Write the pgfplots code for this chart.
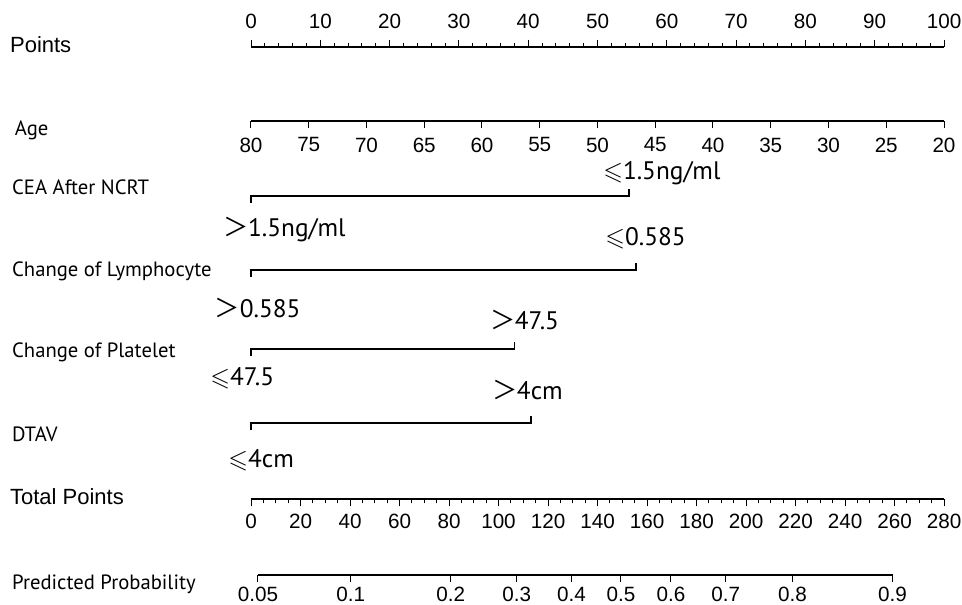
\documentclass[border=0pt]{standalone}
\usepackage{amssymb}
\usepackage{pgfplots}
\pgfplotsset{compat=1.18}
\usepackage{fontspec}
\setmainfont{Liberation Sans}
\newfontfamily\ptsans{PT Sans}
\newfontfamily\cjk{Noto Sans CJK SC}
\newcommand\gt{{\cjk\kern-0.12em ＞\kern-0.02em}}
\newcommand\tickfont{\fontsize{15.5}{16}\selectfont}
\newcommand\namefont{\ptsans\fontsize{15.5}{16}\selectfont}
\newcommand\valfont{\ptsans\fontsize{19}{20}\selectfont}
\newcommand\bigname{\fontsize{16.5}{17}\selectfont}
\pgfplotsset{
  scalebase/.style={scale only axis, height=20pt, ymin=0, ymax=1,
    axis y line=none, ytick=\empty, axis line style={-, line width=1.25pt},
    xtick align=outside, major tick length=5.5pt, minor tick length=3.2pt,
    every tick/.style={black, line width=0.75pt},
    tick label style={font=\tickfont},
    /pgf/number format/assume math mode=true,
    /pgf/number format/.cd, fixed, 1000 sep={}},
}
\begin{document}
\begin{tikzpicture}[x=0.75pt,y=-0.75pt]
\useasboundingbox (0,0) rectangle (962,604);
% main frame axis: x in Points, y in pixel rows
\begin{axis}[name=main, at={(0pt,0pt)}, anchor=north west, scale only axis,
  width=721.5pt, height=453pt, xmin=-36.22, xmax=102.6, ymin=0, ymax=604,
  y dir=reverse, axis lines=none, clip=false]
% categorical bars
\addplot[black, line width=1.25pt] coordinates {(0,203) (0,196) (54.5,196) (54.5,189)};
\addplot[black, line width=1.25pt] coordinates {(0,277) (0,270) (55.6,270) (55.6,263)};
\addplot[black, line width=1.25pt] coordinates {(0,356) (0,349) (38.0,349) (38.0,342)};
\addplot[black, line width=1.25pt] coordinates {(0,430) (0,423) (40.4,423) (40.4,416)};
% row names
\node[anchor=west, inner sep=0pt, font=\bigname] at (axis cs:-34.8,45) {Points};
\node[anchor=west, inner sep=0pt, font=\namefont] at (axis cs:-34.1,130) {Age};
\node[anchor=west, inner sep=0pt, font=\namefont] at (axis cs:-34.5,187) {CEA After NCRT};
\node[anchor=west, inner sep=0pt, font=\namefont] at (axis cs:-34.5,271) {Change of Lymphocyte};
\node[anchor=west, inner sep=0pt, font=\namefont] at (axis cs:-34.5,352) {Change of Platelet};
\node[anchor=west, inner sep=0pt, font=\namefont] at (axis cs:-34.5,434) {DTAV};
\node[anchor=west, inner sep=0pt, font=\bigname] at (axis cs:-34.8,497) {Total Points};
\node[anchor=west, inner sep=0pt, font=\namefont] at (axis cs:-34.5,584) {Predicted Probability};
% level labels
\node[anchor=west, inner sep=0pt, font=\valfont] at (axis cs:50.8,173) {$\leqslant$1.5ng/ml};
\node[anchor=west, inner sep=0pt, font=\valfont] at (axis cs:-3.6,230) {\gt1.5ng/ml};
\node[anchor=west, inner sep=0pt, font=\valfont] at (axis cs:51.1,238) {$\leqslant$0.585};
\node[anchor=west, inner sep=0pt, font=\valfont] at (axis cs:-4.8,308) {\gt0.585};
\node[anchor=west, inner sep=0pt, font=\valfont] at (axis cs:34.9,320) {\gt47.5};
\node[anchor=west, inner sep=0pt, font=\valfont] at (axis cs:-5.9,378) {$\leqslant$47.5};
\node[anchor=west, inner sep=0pt, font=\valfont] at (axis cs:35.2,390) {\gt4cm};
\node[anchor=west, inner sep=0pt, font=\valfont] at (axis cs:-3.3,460) {$\leqslant$4cm};
\end{axis}
% Points scale
\begin{axis}[scalebase, at={(188.25pt,-35.25pt)}, anchor=north west, width=519.75pt,
  axis x line*=top, xmin=0, xmax=100, xtick={0,10,...,100}, minor x tick num=4,
  xticklabel style={yshift=4.5pt}]
\end{axis}
% Age scale
\begin{axis}[scalebase, at={(188.25pt,-90.75pt)}, anchor=south west, width=519.75pt,
  axis x line*=bottom, xmin=20, xmax=80, x dir=reverse, xtick={20,25,...,80},
  xticklabel style={yshift=-3.5pt}]
\end{axis}
% Total points scale
\begin{axis}[scalebase, at={(188.25pt,-374.25pt)}, anchor=south west, width=519.75pt,
  axis x line*=bottom, xmin=0, xmax=280, xtick={0,20,...,280}, minor x tick num=3,
  xticklabel style={yshift=-2.5pt}]
\end{axis}
% Predicted probability scale
\begin{axis}[scalebase, at={(193.425pt,-431.25pt)}, anchor=south west, width=475.95pt,
  axis x line*=bottom, xmin=2.8, xmax=259.2,
  xtick={2.8,40.3,80.7,107.4,129.5,149.5,169.7,191.8,218.8,259.2},
  xticklabels={0.05,0.1,0.2,0.3,0.4,0.5,0.6,0.7,0.8,0.9}]
\end{axis}
\end{tikzpicture}
\end{document}
